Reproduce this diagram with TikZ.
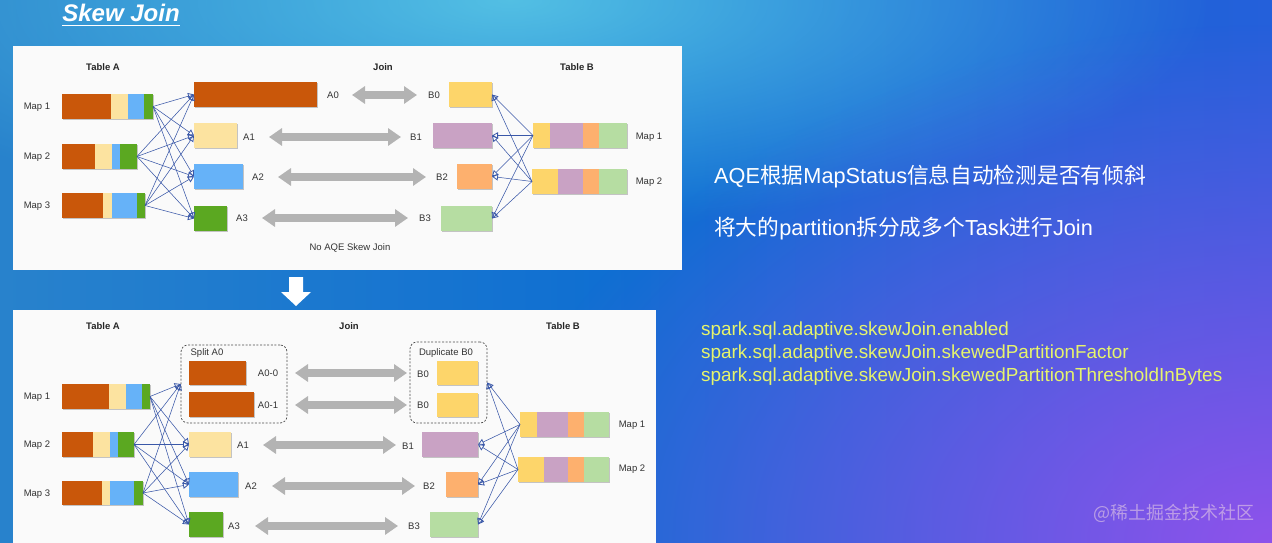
\documentclass[tikz,border=0pt]{standalone}
\usepackage{fontspec}
\setmainfont{Liberation Sans}
\newfontfamily\cjk{Noto Sans CJK SC}
\usetikzlibrary{arrows.meta,fadings,shadows}
\definecolor{bgL}{HTML}{2882CC}
\definecolor{bgM}{HTML}{0E6ED2}
\definecolor{bgR}{HTML}{2460DA}
\definecolor{glowC}{HTML}{5AC8E6}
\definecolor{glowP}{HTML}{9452EC}
\definecolor{panelW}{HTML}{FAFAFA}
\definecolor{cOr}{HTML}{C9570A}
\definecolor{cYl}{HTML}{FCE3A0}
\definecolor{cBl}{HTML}{66B2F8}
\definecolor{cGr}{HTML}{5BA821}
\definecolor{cYt}{HTML}{FDD56A}
\definecolor{cPu}{HTML}{C9A2C4}
\definecolor{cOt}{HTML}{FDB06E}
\definecolor{cGt}{HTML}{B6DDA2}
\definecolor{conn}{HTML}{3A58A8}
\definecolor{garr}{HTML}{B3B3B3}
\definecolor{ylw}{HTML}{E6F46C}
\tikzfading[name=glowfade, inner color=transparent!0, outer color=transparent!100]
\tikzset{
  bar/.style={rectangle, draw=none, inner sep=0pt, outer sep=0pt,
    drop shadow={shadow xshift=1pt, shadow yshift=-1.2pt, opacity=0.22, fill=black}},
  lbl/.style={font=\fontsize{9.5}{11}\selectfont, text=black!80, inner sep=0pt},
  hdr/.style={font=\bfseries\fontsize{9.5}{11}\selectfont, text=black!85, inner sep=0pt},
  conn/.style={draw=conn, line width=0.55pt, -{Triangle[open, length=6pt, width=6.5pt, line width=0.8pt]}},
  garrow/.style={draw=garr, line width=8pt, {Triangle[length=13pt, width=17pt]}-{Triangle[length=13pt, width=17pt]}},
  grp/.style={draw=black!70, dash pattern=on 2pt off 1.6pt, line width=0.7pt, rounded corners=7pt},
  bigtxt/.style={anchor=west, inner sep=0pt, text=white, font=\cjk\fontsize{21.7}{25}\selectfont},
  cfgtxt/.style={anchor=west, inner sep=0pt, text=ylw, font=\fontsize{18.9}{22}\selectfont}
}
\newcommand\bx[6]{\node[bar, fill=#6, minimum width={(#4-#2)*1pt}, minimum height={(#5-#3)*1pt}] (#1) at ({(#2+#4)/2},{(#3+#5)/2}) {};}
\newcommand\mapA[8]{%
  \bx{#1}{#4}{#2}{#8}{#3}{white}%
  \fill[cOr] (#4,#2) rectangle (#5,#3);
  \fill[cYl] (#5,#2) rectangle (#6,#3);
  \fill[cBl] (#6,#2) rectangle (#7,#3);
  \fill[cGr] (#7,#2) rectangle (#8,#3);}
\newcommand\mapB[8]{%
  \bx{#1}{#4}{#2}{#8}{#3}{white}%
  \fill[cYt] (#4,#2) rectangle (#5,#3);
  \fill[cPu] (#5,#2) rectangle (#6,#3);
  \fill[cOt] (#6,#2) rectangle (#7,#3);
  \fill[cGt] (#7,#2) rectangle (#8,#3);}
\begin{document}
\begin{tikzpicture}[x=1pt,y=-1pt]
\useasboundingbox (0,0) rectangle (1272,543);
% background
\begin{scope}
\clip (0,0) rectangle (1272,543);
\shade[left color=bgL, right color=bgR, middle color=bgM] (0,0) rectangle (1272,543);
\fill[glowC, path fading=glowfade, fit fading=true, opacity=0.9] (510,0) ellipse [x radius=700, y radius=230];
\fill[glowP, path fading=glowfade, fit fading=true, opacity=0.95] (1272,543) ellipse [x radius=780, y radius=520];
\end{scope}
% title
\node[text=white, font=\bfseries\itshape\fontsize{24}{26}\selectfont, inner sep=0pt] (title) at (121,13) {Skew Join};
\draw[white, line width=1.4pt] ([yshift=-3.5pt]title.south west) -- ([yshift=-3.5pt]title.south east);
% panels
\fill[panelW] (13,46) rectangle (682,270);
\fill[panelW] (13,310) rectangle (656,543);
% down arrow
\fill[white] (289,277) -- (303,277) -- (303,292) -- (311,292) -- (296,306) -- (281,292) -- (289,292) -- cycle;

% ================= TOP PANEL =================
\node[hdr] (tTA) at (103,67) {Table A};
\node[hdr] (tJ) at (383,67) {Join};
\node[hdr] (tTB) at (577,67) {Table B};
\mapA{tm1}{94}{119}{62}{111}{128}{144}{153}
\mapA{tm2}{144}{169}{62}{95}{112}{120}{137}
\mapA{tm3}{193}{218}{62}{103}{112}{137}{145}
\node[lbl] (tml1) at (37,107) {Map 1};
\node[lbl] (tml2) at (37,157) {Map 2};
\node[lbl] (tml3) at (37,206) {Map 3};
\bx{ta0}{194}{82}{317}{107}{cOr}
\bx{ta1}{194}{123}{237}{148}{cYl}
\bx{ta2}{194}{164}{243}{189}{cBl}
\bx{ta3}{194}{206}{227}{231}{cGr}
\node[lbl] (tla0) at (333,95) {A0};
\node[lbl] (tla1) at (249,137) {A1};
\node[lbl] (tla2) at (258,177) {A2};
\node[lbl] (tla3) at (242,218) {A3};
\bx{tb0}{449}{82}{492}{107}{cYt}
\bx{tb1}{433}{123}{492}{148}{cPu}
\bx{tb2}{457}{164}{492}{189}{cOt}
\bx{tb3}{441}{206}{492}{231}{cGt}
\node[lbl] (tlb0) at (434,95) {B0};
\node[lbl] (tlb1) at (416,137) {B1};
\node[lbl] (tlb2) at (442,177) {B2};
\node[lbl] (tlb3) at (425,218) {B3};
\mapB{tn1}{123}{148}{533}{550}{583}{599}{627}
\mapB{tn2}{169}{194}{532}{558}{583}{599}{627}
\node[lbl] (tnl1) at (649,137) {Map 1};
\node[lbl] (tnl2) at (649,182) {Map 2};
\node[lbl] (tnote) at (350,248) {No AQE Skew Join};
\foreach \m in {tm1,tm2,tm3}{\foreach \a in {ta0,ta1,ta2,ta3}{\draw[conn] (\m.east) -- (\a.west);}}
\foreach \m in {tn1,tn2}{\foreach \b in {tb0,tb1,tb2,tb3}{\draw[conn] (\m.west) -- (\b.east);}}
\coordinate (tg0l) at (352,95);  \coordinate (tg0r) at (417,95);
\coordinate (tg1l) at (269,137); \coordinate (tg1r) at (401,137);
\coordinate (tg2l) at (278,177); \coordinate (tg2r) at (426,177);
\coordinate (tg3l) at (262,218); \coordinate (tg3r) at (408,218);
\foreach \i in {0,1,2,3}{\draw[garrow] (tg\i l) -- (tg\i r);}

% ================= BOTTOM PANEL =================
\node[hdr] (bTA) at (103,326) {Table A};
\node[hdr] (bJ) at (349,326) {Join};
\node[hdr] (bTB) at (563,326) {Table B};
\mapA{bm1}{384}{409}{62}{109}{126}{142}{150}
\mapA{bm2}{432}{457}{62}{93}{110}{118}{134}
\mapA{bm3}{481}{505}{62}{102}{110}{134}{143}
\node[lbl] (bml1) at (37,397) {Map 1};
\node[lbl] (bml2) at (37,445) {Map 2};
\node[lbl] (bml3) at (37,494) {Map 3};
\node[grp, minimum width=106pt, minimum height=78pt, inner sep=0pt] (split) at (234,384) {};
\node[lbl] (splitl) at (207,353) {Split A0};
\bx{ba00}{189}{361}{246}{385}{cOr}
\bx{ba01}{189}{392}{254}{417}{cOr}
\bx{ba1}{189}{432}{231}{457}{cYl}
\bx{ba2}{189}{472}{238}{497}{cBl}
\bx{ba3}{189}{512}{223}{537}{cGr}
\node[lbl] (bla00) at (268,373) {A0-0};
\node[lbl] (bla01) at (268,405) {A0-1};
\node[lbl] (bla1) at (243,445) {A1};
\node[lbl] (bla2) at (251,486) {A2};
\node[lbl] (bla3) at (234,526) {A3};
\node[grp, minimum width=77pt, minimum height=81pt, inner sep=0pt] (dup) at (448.5,382.5) {};
\node[lbl] (dupl) at (446,353) {Duplicate B0};
\bx{bb0a}{437}{361}{478}{385}{cYt}
\bx{bb0b}{437}{393}{478}{417}{cYt}
\bx{bb1}{422}{432}{478}{457}{cPu}
\bx{bb2}{446}{472}{478}{497}{cOt}
\bx{bb3}{430}{512}{478}{537}{cGt}
\node[lbl] (blb0a) at (423,374) {B0};
\node[lbl] (blb0b) at (423,405) {B0};
\node[lbl] (blb1) at (408,446) {B1};
\node[lbl] (blb2) at (429,486) {B2};
\node[lbl] (blb3) at (414,526) {B3};
\mapB{bn1}{412}{437}{520}{537}{568}{584}{609}
\mapB{bn2}{457}{482}{518}{544}{568}{584}{609}
\node[lbl] (bnl1) at (632,425) {Map 1};
\node[lbl] (bnl2) at (632,469) {Map 2};
\foreach \m in {bm1,bm2,bm3}{\foreach \a in {split,ba1,ba2,ba3}{\draw[conn] (\m.east) -- (\a.west);}}
\foreach \m in {bn1,bn2}{\foreach \b in {dup,bb1,bb2,bb3}{\draw[conn] (\m.west) -- (\b.east);}}
\coordinate (bg0l) at (295,373); \coordinate (bg0r) at (407,373);
\coordinate (bg1l) at (295,405); \coordinate (bg1r) at (407,405);
\coordinate (bg2l) at (263,445); \coordinate (bg2r) at (396,445);
\coordinate (bg3l) at (272,486); \coordinate (bg3r) at (415,486);
\coordinate (bg4l) at (255,526); \coordinate (bg4r) at (398,526);
\foreach \i in {0,1,2,3,4}{\draw[garrow] (bg\i l) -- (bg\i r);}

% ================= RIGHT TEXT =================
\node[bigtxt] (t1) at (714,177) {{\rmfamily AQE}根据{\rmfamily MapStatus}信息自动检测是否有倾斜};
\node[bigtxt] (t2) at (714,229) {将大的{\rmfamily partition}拆分成多个{\rmfamily Task}进行{\rmfamily Join}};
\node[cfgtxt] (c1) at (701,331) {spark.sql.adaptive.skewJoin.enabled};
\node[cfgtxt] (c2) at (701,354) {spark.sql.adaptive.skewJoin.skewedPartitionFactor};
\node[cfgtxt] (c3) at (701,377) {spark.sql.adaptive.skewJoin.skewedPartitionThresholdInBytes};
\node[anchor=west, inner sep=0pt, text=white!80!violet, opacity=0.6, font=\cjk\fontsize{18}{20}\selectfont] (wmk) at (1093,513) {@稀土掘金技术社区};
\end{tikzpicture}
\end{document}
